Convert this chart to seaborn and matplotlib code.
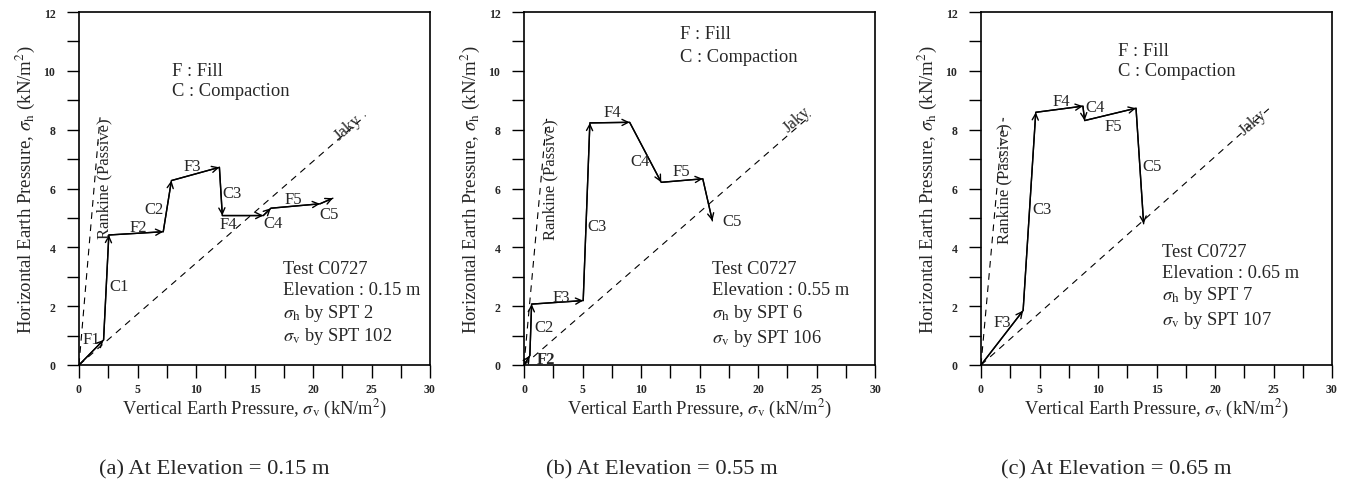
import numpy as np
import pandas as pd
import matplotlib
matplotlib.use("Agg")
import matplotlib.pyplot as plt
import seaborn as sns

# ---------------- data ----------------
# Panel (a) elevation 0.15 m
a_sv = [0, 2.1, 2.55, 7.2, 7.9, 12.0, 12.25, 15.75, 16.4, 20.6, 21.7]
a_sh = [0, 0.85, 4.42, 4.53, 6.27, 6.72, 5.08, 5.08, 5.33, 5.48, 5.67]
a_labels = ["F1", "C1", "F2", "C2", "F3", "C3", "F4", "C4", "F5", "C5"]
a_label_x = [1.08, 3.42, 5.07, 6.41, 9.69, 13.08, 12.76, 16.55, 18.32, 21.4]
a_label_y = [0.88, 2.68, 4.68, 5.31, 6.78, 5.84, 4.80, 4.83, 5.65, 5.14]

# Panel (b) elevation 0.55 m
b_sv = [0, 0.5, 0.65, 5.06, 5.63, 9.03, 11.73, 15.28, 16.1]
b_sh = [0, 0.32, 2.07, 2.19, 8.23, 8.25, 6.21, 6.33, 4.9]
b_labels = ["F2", "C2", "F3", "C3", "F4", "C4", "F5", "C5"]
b_label_x = [1.85, 1.70, 3.15, 6.25, 7.53, 9.89, 13.44, 17.78]
b_label_y = [0.20, 1.28, 2.30, 4.74, 8.59, 6.95, 6.61, 4.91]

# Panel (c) elevation 0.65 m
c_sv = [0, 3.6, 4.68, 8.71, 8.86, 13.25, 13.9]
c_sh = [0, 1.85, 8.59, 8.80, 8.31, 8.73, 4.8]
c_labels = ["F3", "C3", "F4", "C4", "F5", "C5"]
c_label_x = [1.82, 5.19, 6.90, 9.79, 11.27, 14.59]
c_label_y = [1.45, 5.31, 8.96, 8.76, 8.14, 6.78]

# reference lines (end points of Rankine passive and Jaky lines)
rankine_sv = [1.8, 1.93, 1.9]
rankine_sh = [8.42, 8.37, 8.4]
jaky_sv = [24.5, 24.5, 24.6]
jaky_sh = [8.48, 8.48, 8.71]

elevations = ["0.15", "0.55", "0.65"]
spt_h = ["2", "6", "7"]
spt_v = ["102", "106", "107"]
captions = ["(a) At Elevation = 0.15 m", "(b) At Elevation = 0.55 m",
            "(c) At Elevation = 0.65 m"]

# ---------------- styling ----------------
sns.set_theme(style="ticks")
plt.rcParams["font.family"] = ["Liberation Serif", "DejaVu Serif"]
plt.rcParams["mathtext.fontset"] = "stix"

fig = plt.figure(figsize=(13.51, 4.89), dpi=100)
lefts = [79 / 1351, 524 / 1351, 981 / 1351]
ax_w = 351 / 1351
ax_b = (489 - 366) / 489
ax_h = 353 / 489

panels = [
    (a_sv, a_sh, a_labels, a_label_x, a_label_y),
    (b_sv, b_sh, b_labels, b_label_x, b_label_y),
    (c_sv, c_sh, c_labels, c_label_x, c_label_y),
]
fill_pos = [(7.92, 10.01, 9.33), (13.3, 11.26, 10.5), (11.7, 10.7, 10.0)]
test_pos = [(17.4, [3.29, 2.56, 1.79, 1.0]), (16.1, [3.29, 2.56, 1.79, 0.95]),
            (15.5, [3.87, 3.13, 2.39, 1.54])]
rank_lab = [(2.14, 6.36), (2.27, 6.33), (2.04, 6.21)]
jaky_lab = [(23.0, 8.08), (23.3, 8.37), (23.25, 8.28)]
cap_x = [214, 662, 1116]

for i, (sv, sh, labs, lx, ly) in enumerate(panels):
    ax = fig.add_axes([lefts[i], ax_b, ax_w, ax_h])
    # reference lines
    ref = pd.DataFrame({"sv": [0, rankine_sv[i]], "sh": [0, rankine_sh[i]]})
    sns.lineplot(data=ref, x="sv", y="sh", ax=ax, color="black", lw=0.8,
                 linestyle=(0, (6, 5)), sort=False)
    ref2 = pd.DataFrame({"sv": [0, jaky_sv[i]], "sh": [0, jaky_sh[i]]})
    sns.lineplot(data=ref2, x="sv", y="sh", ax=ax, color="black", lw=0.8,
                 linestyle=(0, (6, 5)), sort=False)
    # stress path
    df = pd.DataFrame({"sv": sv, "sh": sh})
    sns.lineplot(data=df, x="sv", y="sh", ax=ax, color="black", lw=1.0,
                 sort=False)
    for k in range(len(sv) - 1):
        ax.annotate("", xy=(sv[k + 1], sh[k + 1]), xytext=(sv[k], sh[k]),
                    arrowprops=dict(arrowstyle="->", lw=1.0, color="black",
                                    shrinkA=0, shrinkB=0, mutation_scale=11))
    for t, x, y in zip(labs, lx, ly):
        ax.text(x, y, t, ha="center", va="center", fontsize=12,
                fontweight="bold" if (i == 1 and t == "F2") else "normal")
    # notes
    fx, fy1, fy2 = fill_pos[i]
    ax.text(fx, fy1, "F : Fill", ha="left", va="center", fontsize=13.3)
    ax.text(fx, fy2, "C : Compaction", ha="left", va="center", fontsize=13.3)
    tx, tys = test_pos[i]
    lines = ["Test C0727", f"Elevation : {elevations[i]} m",
             r"$\sigma_{\mathrm{h}}$ by SPT " + spt_h[i],
             r"$\sigma_{\mathrm{v}}$ by SPT " + spt_v[i]]
    for ln, ty in zip(lines, tys):
        ax.text(tx, ty, ln, ha="left", va="center", fontsize=13.3)
    ax.text(rank_lab[i][0], rank_lab[i][1], "Rankine (Passive)", rotation=90,
            ha="center", va="center", fontsize=12)
    ax.text(jaky_lab[i][0], jaky_lab[i][1], "Jaky", rotation=41,
            ha="center", va="center", fontsize=12)

    ax.set_xlim(0, 30)
    ax.set_ylim(0, 12)
    ax.set_xticks(np.arange(0, 31, 5))
    ax.set_xticks(np.arange(0, 30.1, 2.5), minor=True)
    ax.set_yticks(np.arange(0, 13, 2))
    ax.set_yticks(np.arange(0, 12.1, 1), minor=True)
    ax.tick_params(which="both", direction="out", length=9, width=1.0,
                   color="black")
    ax.tick_params(axis="x", which="major", labelsize=8.5, pad=4)
    ax.tick_params(axis="y", which="major", labelsize=8.5, pad=8)
    for lab in ax.get_xticklabels() + ax.get_yticklabels():
        lab.set_fontweight("bold")
    for s in ax.spines.values():
        s.set_visible(True)
        s.set_color("black")
        s.set_linewidth(1.2)
    ax.set_xlabel(r"Vertical Earth Pressure, $\sigma_{\mathrm{v}}$ (kN/m$^{2}$)",
                  fontsize=13.3, labelpad=1)
    ax.set_ylabel(r"Horizontal Earth Pressure, $\sigma_{\mathrm{h}}$ (kN/m$^{2}$)",
                  fontsize=13.5, labelpad=5)
    fig.text(cap_x[i] / 1351, 1 - 470 / 489, captions[i], ha="center",
             va="center", fontsize=16.2)

fig.savefig("out.png", dpi=100)
